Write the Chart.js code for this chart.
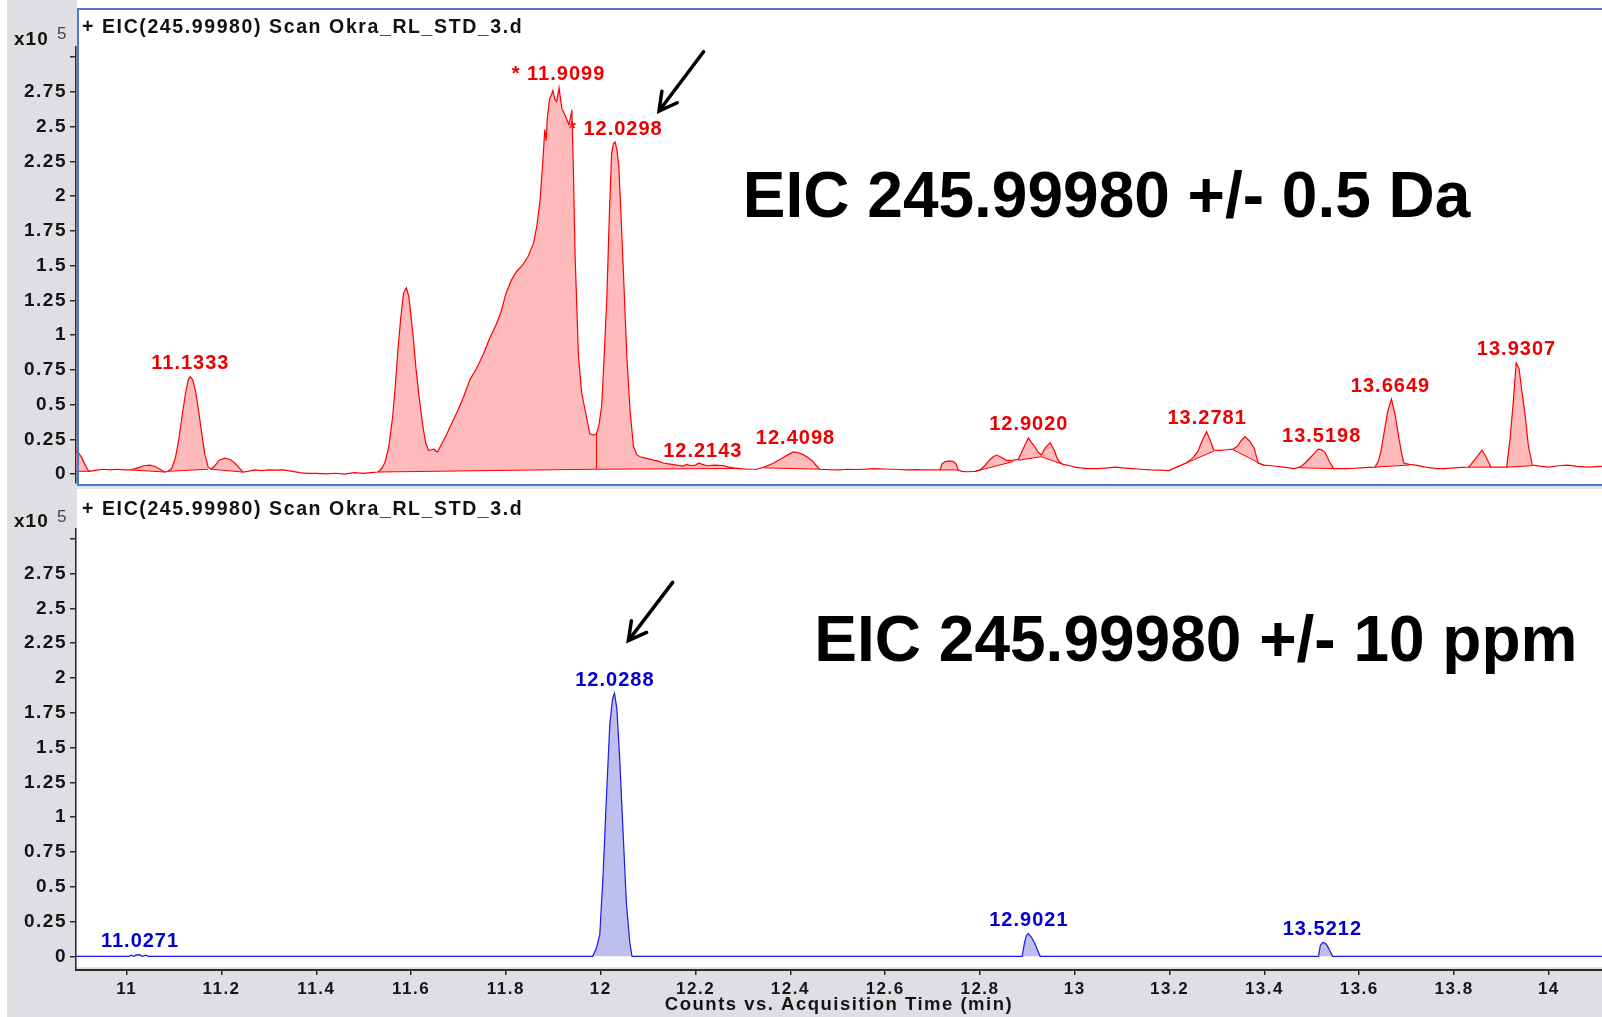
<!DOCTYPE html>
<html>
<head>
<meta charset="utf-8">
<title>EIC 245.99980 – Okra_RL_STD_3</title>
<script src="https://cdn.jsdelivr.net/npm/chart.js@4.4.1/dist/chart.umd.min.js"></script>
<style>
  html, body { margin: 0; padding: 0; background: #ffffff; }
  body { width: 1602px; height: 1017px; position: relative; overflow: hidden; }
  canvas { position: absolute; left: 0; display: block; }
  #eicWide { top: 0; }
  #eicNarrow { top: 487px; }
</style>
</head>
<body>
<canvas id="eicWide" width="1602" height="487"></canvas>
<canvas id="eicNarrow" width="1602" height="530"></canvas>
<script>
// ---------- axis ticks ----------
const xTickValues = [11, 11.2, 11.4, 11.6, 11.8, 12, 12.2, 12.4, 12.6, 12.8, 13, 13.2, 13.4, 13.6, 13.8, 14];
const xTickLabels = ['11', '11.2', '11.4', '11.6', '11.8', '12', '12.2', '12.4', '12.6', '12.8', '13', '13.2', '13.4', '13.6', '13.8', '14'];
const yTickValues = [0, 0.25, 0.5, 0.75, 1, 1.25, 1.5, 1.75, 2, 2.25, 2.5, 2.75, 3];
const yTickLabels = ['0', '0.25', '0.5', '0.75', '1', '1.25', '1.5', '1.75', '2', '2.25', '2.5', '2.75', ''];

// ---------- EIC 245.99980 +/- 0.5 Da (counts x10^5 vs. minutes) ----------
const wideTimes = [
  10.893, 10.899, 10.905, 10.912, 10.918, 10.922, 10.93, 10.94, 10.951, 10.965, 10.98, 10.995,
  11.01, 11.023, 11.036, 11.049, 11.06, 11.07, 11.08, 11.087, 11.095, 11.103, 11.11, 11.117,
  11.124, 11.13, 11.134, 11.139, 11.145, 11.152, 11.158, 11.165, 11.172, 11.178, 11.186, 11.195,
  11.207, 11.218, 11.228, 11.236, 11.245, 11.255, 11.27, 11.285, 11.3, 11.315, 11.33, 11.35,
  11.365, 11.38, 11.4, 11.42, 11.44, 11.46, 11.48, 11.5, 11.515, 11.53, 11.538, 11.545,
  11.553, 11.561, 11.567, 11.572, 11.578, 11.584, 11.59, 11.595, 11.599, 11.605, 11.61, 11.617,
  11.625, 11.631, 11.637, 11.643, 11.648, 11.652, 11.656, 11.665, 11.674, 11.685, 11.696, 11.71,
  11.724, 11.738, 11.752, 11.766, 11.78, 11.79, 11.8, 11.812, 11.823, 11.834, 11.846, 11.858,
  11.865, 11.872, 11.878, 11.882, 11.885, 11.887, 11.892, 11.896, 11.899, 11.903, 11.907, 11.912,
  11.918, 11.925, 11.932, 11.936, 11.939, 11.942, 11.946, 11.953, 11.96, 11.97, 11.977, 11.985,
  11.991, 11.996, 12.002, 12.008, 12.013, 12.018, 12.023, 12.027, 12.03, 12.034, 12.038, 12.043,
  12.048, 12.055, 12.062, 12.069, 12.076, 12.083, 12.095, 12.111, 12.12, 12.132, 12.14, 12.15,
  12.16, 12.174, 12.182, 12.19, 12.2, 12.207, 12.214, 12.225, 12.24, 12.258, 12.27, 12.28,
  12.294, 12.31, 12.329, 12.345, 12.364, 12.375, 12.385, 12.395, 12.406, 12.415, 12.427, 12.437,
  12.445, 12.455, 12.462, 12.48, 12.504, 12.52, 12.54, 12.56, 12.575, 12.59, 12.61, 12.63,
  12.645, 12.665, 12.68, 12.7, 12.716, 12.72, 12.727, 12.735, 12.744, 12.75, 12.754, 12.762,
  12.772, 12.79, 12.8, 12.81, 12.82, 12.828, 12.835, 12.846, 12.856, 12.87, 12.881, 12.891,
  12.902, 12.908, 12.915, 12.922, 12.929, 12.938, 12.948, 12.957, 12.962, 12.967, 12.975, 12.983,
  12.99, 13.0, 13.01, 13.028, 13.05, 13.07, 13.085, 13.1, 13.12, 13.14, 13.16, 13.18,
  13.198, 13.215, 13.225, 13.236, 13.25, 13.259, 13.27, 13.278, 13.285, 13.293, 13.307, 13.321,
  13.334, 13.343, 13.351, 13.359, 13.368, 13.378, 13.387, 13.4, 13.415, 13.44, 13.462, 13.475,
  13.486, 13.5, 13.508, 13.514, 13.521, 13.528, 13.537, 13.546, 13.56, 13.575, 13.59, 13.605,
  13.62, 13.633, 13.64, 13.645, 13.652, 13.66, 13.668, 13.676, 13.684, 13.69, 13.694, 13.705,
  13.719, 13.74, 13.765, 13.78, 13.8, 13.815, 13.831, 13.845, 13.859, 13.868, 13.878, 13.895,
  13.911, 13.918, 13.925, 13.931, 13.937, 13.943, 13.949, 13.957, 13.965, 13.985, 14.0, 14.02,
  14.04, 14.06, 14.08, 14.112
];
const wideCounts = [
  0.16, 0.15, 0.12, 0.07, 0.03, 0.02, 0.025, 0.03, 0.035, 0.03, 0.035, 0.03,
  0.03, 0.045, 0.06, 0.065, 0.055, 0.035, 0.015, 0.02, 0.04, 0.12, 0.25, 0.42,
  0.58, 0.68, 0.70, 0.68, 0.60, 0.45, 0.30, 0.14, 0.05, 0.035, 0.06, 0.10,
  0.115, 0.105, 0.08, 0.05, 0.015, 0.02, 0.03, 0.025, 0.03, 0.028, 0.03, 0.02,
  0.01, 0.005, 0.005, 0.002, 0.006, 0.0, 0.01, 0.005, 0.01, 0.015, 0.04, 0.085,
  0.20, 0.41, 0.65, 0.89, 1.12, 1.30, 1.34, 1.28, 1.16, 0.97, 0.77, 0.55,
  0.34, 0.22, 0.17, 0.175, 0.18, 0.165, 0.16, 0.22, 0.28, 0.36, 0.44, 0.55,
  0.68, 0.76, 0.86, 0.98, 1.08, 1.17, 1.30, 1.40, 1.46, 1.50, 1.56, 1.66,
  1.78, 1.97, 2.26, 2.48, 2.40, 2.55, 2.70, 2.73, 2.76, 2.70, 2.68, 2.78,
  2.63, 2.58, 2.52, 2.56, 2.62, 2.24, 1.56, 0.85, 0.58, 0.41, 0.29, 0.28,
  0.29, 0.35, 0.49, 0.90, 1.28, 1.85, 2.31, 2.38, 2.39, 2.34, 2.22, 1.85,
  1.44, 0.85, 0.45, 0.20, 0.14, 0.125, 0.115, 0.10, 0.095, 0.08, 0.075, 0.07,
  0.065, 0.058, 0.07, 0.06, 0.065, 0.08, 0.07, 0.06, 0.065, 0.062, 0.05, 0.045,
  0.04, 0.035, 0.035, 0.05, 0.078, 0.10, 0.12, 0.14, 0.16, 0.155, 0.14, 0.12,
  0.10, 0.06, 0.035, 0.032, 0.03, 0.035, 0.033, 0.036, 0.04, 0.038, 0.035, 0.033,
  0.03, 0.032, 0.03, 0.03, 0.03, 0.075, 0.09, 0.095, 0.09, 0.07, 0.03, 0.02,
  0.017, 0.02, 0.03, 0.06, 0.10, 0.125, 0.137, 0.12, 0.097, 0.10, 0.106, 0.18,
  0.26, 0.23, 0.20, 0.16, 0.137, 0.19, 0.226, 0.17, 0.12, 0.09, 0.07, 0.065,
  0.06, 0.05, 0.045, 0.04, 0.04, 0.045, 0.05, 0.045, 0.04, 0.035, 0.03, 0.028,
  0.025, 0.05, 0.065, 0.082, 0.12, 0.16, 0.25, 0.305, 0.25, 0.173, 0.17, 0.175,
  0.18, 0.20, 0.24, 0.27, 0.24, 0.19, 0.078, 0.065, 0.06, 0.05, 0.04, 0.05,
  0.08, 0.13, 0.16, 0.18, 0.175, 0.155, 0.09, 0.04, 0.04, 0.04, 0.042, 0.045,
  0.048, 0.05, 0.09, 0.15, 0.29, 0.45, 0.54, 0.42, 0.25, 0.14, 0.08, 0.07,
  0.065, 0.05, 0.04, 0.04, 0.045, 0.048, 0.05, 0.11, 0.173, 0.12, 0.05, 0.05,
  0.05, 0.25, 0.52, 0.80, 0.76, 0.60, 0.45, 0.20, 0.065, 0.055, 0.05, 0.06,
  0.065, 0.055, 0.05, 0.055
];
// integrated peaks: start/end time and baseline level at each end
const widePeakStart = [10.893, 11.01, 11.087, 11.178, 11.53, 11.991, 12.345, 12.716, 12.79, 12.881, 12.929, 13.215, 13.334, 13.475, 13.633, 13.831, 13.911];
const widePeakEnd   = [10.922, 11.08, 11.172, 11.245, 11.991, 12.294, 12.462, 12.754, 12.87, 12.929, 12.975, 13.293, 13.4, 13.546, 13.705, 13.878, 13.965];
const wideBaseStart = [0.02, 0.03, 0.02, 0.035, 0.015, 0.035, 0.045, 0.03, 0.02, 0.10, 0.125, 0.05, 0.175, 0.045, 0.05, 0.05, 0.05];
const wideBaseEnd   = [0.02, 0.015, 0.035, 0.015, 0.035, 0.04, 0.035, 0.03, 0.09, 0.125, 0.07, 0.165, 0.06, 0.04, 0.065, 0.05, 0.06];
// drop line separating the co-eluting peaks
const wideDropTimes = [11.991];
const wideDropBase  = [0.035];
const wideLabelTimes = [11.1333, 11.9099, 12.0298, 12.2143, 12.4098, 12.9020, 13.2781, 13.5198, 13.6649, 13.9307];
const wideLabelTexts = ['11.1333', '* 11.9099', '* 12.0298', '12.2143', '12.4098', '12.9020', '13.2781', '13.5198', '13.6649', '13.9307'];

// ---------- EIC 245.99980 +/- 10 ppm ----------
const narrowTimes = [
  10.893, 11.005, 11.01, 11.015, 11.02, 11.027, 11.033, 11.04, 11.046,
  11.983, 11.991, 11.998, 12.005, 12.0125, 12.019, 12.025, 12.029, 12.034, 12.04, 12.047, 12.054, 12.061, 12.066,
  12.889, 12.894, 12.898, 12.902, 12.908, 12.916, 12.922, 12.927,
  13.514, 13.518, 13.523, 13.527, 13.531, 13.538, 13.544, 14.112
];
const narrowCounts = [
  0, 0, 0.008, 0, 0.01, 0.012, 0, 0.008, 0,
  0, 0.06, 0.155, 0.59, 1.18, 1.66, 1.85, 1.89, 1.78, 1.42, 0.90, 0.39, 0.11, 0,
  0, 0.10, 0.15, 0.163, 0.14, 0.09, 0.04, 0,
  0, 0.08, 0.10, 0.095, 0.085, 0.04, 0, 0
];
const narrowPeakStart = [11.005, 11.983, 12.889, 13.514];
const narrowPeakEnd   = [11.046, 12.066, 12.927, 13.544];
const narrowLabelTimes = [11.0271, 12.0288, 12.9021, 13.5212];
const narrowLabelTexts = ['11.0271', '12.0288', '12.9021', '13.5212'];

// ---------- styling ----------
const SANS = '"Liberation Sans", Arial, Helvetica, sans-serif';
const GRAY = '#dfdfe3';
const FRAME_BLUE = '#4a7acb';
const AXIS = '#2a2a2a';
const X_MIN = 10.8931, X_MAX = 14.1121;

Chart.defaults.font.family = SANS;

function toPoints(ts, vs, t0, t1) {
  const out = [];
  for (let i = 0; i < ts.length; i++) {
    if (ts[i] >= t0 - 1e-9 && ts[i] <= t1 + 1e-9) out.push({ x: ts[i], y: vs[i] });
  }
  return out;
}

function valueAt(ts, vs, t) {
  for (let i = 0; i < ts.length; i++) if (Math.abs(ts[i] - t) < 1e-9) return vs[i];
  return 0;
}

function apexNear(ts, vs, t) {
  let best = 0;
  for (let i = 0; i < ts.length; i++) {
    if (Math.abs(ts[i] - t) <= 0.0065) best = Math.max(best, vs[i]);
  }
  return best;
}

function yLabel(v) {
  const i = yTickValues.findIndex(t => Math.abs(t - v) < 1e-9);
  return i < 0 ? '' : yTickLabels[i];
}
function xLabel(v) {
  const i = xTickValues.findIndex(t => Math.abs(t - v) < 1e-9);
  return i < 0 ? '' : xTickLabels[i];
}

function scalesFor(yMin, yMax, withTimeAxis) {
  return {
    x: {
      type: 'linear', min: X_MIN, max: X_MAX, display: withTimeAxis, position: 'bottom',
      afterBuildTicks: s => { s.ticks = xTickValues.map(v => ({ value: v })); },
      afterFit: s => {
        if (!withTimeAxis) return;
        s.height = 47; s.paddingLeft = 0; s.paddingRight = 0;
      },
      ticks: { callback: v => xLabel(v), autoSkip: false, maxRotation: 0, padding: 4, color: '#141414',
               font: { size: 17, weight: 'bold' } },
      grid: { display: true, drawOnChartArea: false, drawTicks: true, tickLength: 5, color: AXIS, lineWidth: 1.5 },
      border: { display: true, color: AXIS, width: 2 },
      title: { display: withTimeAxis, text: 'Counts vs. Acquisition Time (min)', color: '#141414',
               font: { size: 18.5, weight: 'bold' }, padding: { top: 0, bottom: 1 } }
    },
    y: {
      type: 'linear', min: yMin, max: yMax, position: 'left',
      afterBuildTicks: s => { s.ticks = yTickValues.map(v => ({ value: v })); },
      afterFit: s => { s.width = 76; s.paddingTop = 0; s.paddingBottom = 0; },
      ticks: { callback: v => yLabel(v), autoSkip: false, padding: 3, color: '#141414',
               font: { size: 19, weight: 'bold' } },
      grid: { display: true, drawOnChartArea: false, drawTicks: true, tickLength: 6, color: AXIS, lineWidth: 1.5 },
      border: { display: true, color: AXIS, width: 1.5 }
    }
  };
}

function traceDatasets(ts, vs, line, shade, starts, ends, baseA, baseB, drops, dropBase) {
  const sets = [{
    data: toPoints(ts, vs, -Infinity, Infinity),
    borderColor: line, borderWidth: 1.2, pointRadius: 0, fill: false, tension: 0
  }];
  (drops || []).forEach((t, k) => {
    sets.push({
      data: [{ x: t, y: dropBase[k] }, { x: t, y: valueAt(ts, vs, t) }],
      borderColor: line, borderWidth: 1, pointRadius: 0, fill: false, tension: 0
    });
  });
  starts.forEach((s, k) => {
    if (baseA) {
      const baseIndex = sets.length;
      sets.push({
        data: [{ x: s, y: baseA[k] }, { x: ends[k], y: baseB[k] }],
        borderColor: line, borderWidth: 1, pointRadius: 0, fill: false, tension: 0
      });
      sets.push({
        data: toPoints(ts, vs, s, ends[k]),
        borderColor: 'rgba(0,0,0,0)', borderWidth: 0, pointRadius: 0, tension: 0,
        backgroundColor: shade, fill: baseIndex
      });
    } else {
      sets.push({
        data: toPoints(ts, vs, s, ends[k]),
        borderColor: 'rgba(0,0,0,0)', borderWidth: 0, pointRadius: 0, tension: 0,
        backgroundColor: shade, fill: { value: 0 }
      });
    }
  });
  return sets;
}

function drawHeader(ctx, titleY, expY) {
  ctx.save();
  ctx.fillStyle = '#111';
  ctx.textBaseline = 'middle';
  ctx.textAlign = 'left';
  ctx.letterSpacing = '1.6px';
  ctx.font = `bold 19.5px ${SANS}`;
  ctx.fillText('+ EIC(245.99980) Scan Okra_RL_STD_3.d', 82, titleY);
  ctx.letterSpacing = '1px';
  ctx.font = `bold 19px ${SANS}`;
  ctx.fillText('x10', 14, expY);
  ctx.font = `17px ${SANS}`;
  ctx.fillStyle = '#444';
  ctx.fillText('5', 57, expY - 5);
  ctx.restore();
}

function drawArrow(ctx, x0, y0, x1, y1) {
  const ang = Math.atan2(y1 - y0, x1 - x0);
  const head = 20, spread = 0.5;
  ctx.save();
  ctx.strokeStyle = '#000';
  ctx.lineWidth = 3.5;
  ctx.lineCap = 'round';
  ctx.lineJoin = 'miter';
  ctx.beginPath();
  ctx.moveTo(x0, y0); ctx.lineTo(x1, y1);
  ctx.moveTo(x1 - head * Math.cos(ang - spread), y1 - head * Math.sin(ang - spread));
  ctx.lineTo(x1, y1);
  ctx.lineTo(x1 - head * Math.cos(ang + spread), y1 - head * Math.sin(ang + spread));
  ctx.stroke();
  ctx.restore();
}

function peakLabels(ts, vs, times, texts, color) {
  return {
    id: 'peakLabels',
    beforeDatasetsDraw(chart) {
      const { ctx, scales: { x, y } } = chart;
      ctx.save();
      ctx.font = `bold 20px ${SANS}`;
      ctx.letterSpacing = '1px';
      ctx.fillStyle = color;
      ctx.textAlign = 'center';
      ctx.textBaseline = 'middle';
      times.forEach((t, i) => {
        const h = apexNear(ts, vs, t);
        ctx.fillText(texts[i], x.getPixelForValue(t) + 0.5, y.getPixelForValue(h) - 13);
      });
      ctx.restore();
    }
  };
}

// ---------- upper panel ----------
const upperFrame = {
  id: 'upperFrame',
  beforeDraw(chart) {
    const { ctx, width: W, height: H } = chart;
    ctx.save();
    ctx.fillStyle = '#fff'; ctx.fillRect(0, 0, W, H);
    ctx.fillStyle = GRAY; ctx.fillRect(7, 0, 70, H);
    ctx.fillStyle = GRAY; ctx.fillRect(7, 486, W - 7, 1);
    ctx.restore();
    drawHeader(ctx, 27.6, 39.8);
    ctx.letterSpacing = '1.5px';
  },
  afterDraw(chart) {
    const { ctx, width: W, scales: { x, y } } = chart;
    ctx.save();
    ctx.strokeStyle = FRAME_BLUE; ctx.lineWidth = 2;
    ctx.beginPath();
    ctx.moveTo(77, 9); ctx.lineTo(W, 9);
    ctx.moveTo(78, 8); ctx.lineTo(78, 486);
    ctx.moveTo(77, 485); ctx.lineTo(W, 485);
    ctx.stroke();
    ctx.letterSpacing = '0px';
    ctx.fillStyle = '#000';
    ctx.font = `bold 64px ${SANS}`;
    ctx.textAlign = 'left'; ctx.textBaseline = 'alphabetic';
    ctx.fillText('EIC 245.99980 +/- 0.5 Da', x.getPixelForValue(12.2997), y.getPixelForValue(1.853));
    ctx.restore();
    drawArrow(ctx, x.getPixelForValue(12.2169), y.getPixelForValue(3.04),
                   x.getPixelForValue(12.1229), y.getPixelForValue(2.613));
  }
};

new Chart(document.getElementById('eicWide'), {
  type: 'line',
  data: { datasets: traceDatasets(wideTimes, wideCounts, '#ff0000', 'rgba(255,120,120,0.5)',
                                  widePeakStart, widePeakEnd, wideBaseStart, wideBaseEnd,
                                  wideDropTimes, wideDropBase) },
  options: {
    responsive: false, animation: false, events: [],
    layout: { padding: { top: 47, bottom: 4, left: 0, right: 0 } },
    plugins: { legend: { display: false }, tooltip: { enabled: false }, title: { display: false } },
    scales: scalesFor(-0.0641, 3.0737, false)
  },
  plugins: [upperFrame, peakLabels(wideTimes, wideCounts, wideLabelTimes, wideLabelTexts, '#ee0000')]
});

// ---------- lower panel ----------
const lowerFrame = {
  id: 'lowerFrame',
  beforeDraw(chart) {
    const { ctx, width: W, height: H } = chart;
    ctx.save();
    ctx.fillStyle = '#fff'; ctx.fillRect(0, 0, W, H);
    ctx.fillStyle = GRAY; ctx.fillRect(7, 0, W - 7, H);
    ctx.fillStyle = '#fff'; ctx.fillRect(77, 2, W - 77, 478);
    ctx.restore();
    drawHeader(ctx, 22.8, 35);
    ctx.letterSpacing = '1.5px';
  },
  afterDraw(chart) {
    const { ctx, scales: { x, y } } = chart;
    ctx.save();
    ctx.letterSpacing = '0px';
    ctx.fillStyle = '#000';
    ctx.font = `bold 64px ${SANS}`;
    ctx.textAlign = 'left'; ctx.textBaseline = 'alphabetic';
    ctx.fillText('EIC 245.99980 +/- 10 ppm', x.getPixelForValue(12.4506), y.getPixelForValue(2.121));
    ctx.restore();
    drawArrow(ctx, x.getPixelForValue(12.1518), y.getPixelForValue(2.686),
                   x.getPixelForValue(12.0583), y.getPixelForValue(2.268));
  }
};

new Chart(document.getElementById('eicNarrow'), {
  type: 'line',
  data: { datasets: traceDatasets(narrowTimes, narrowCounts, '#1a1ae0', 'rgba(110,110,220,0.45)',
                                  narrowPeakStart, narrowPeakEnd, null, null, null, null) },
  options: {
    responsive: false, animation: false, events: [],
    layout: { padding: { top: 42, bottom: 0, left: 0, right: 0 } },
    plugins: { legend: { display: false }, tooltip: { enabled: false }, title: { display: false } },
    scales: scalesFor(-0.0984, 3.0697, true)
  },
  plugins: [lowerFrame, peakLabels(narrowTimes, narrowCounts, narrowLabelTimes, narrowLabelTexts, '#0000d0')]
});
</script>
</body>
</html>
